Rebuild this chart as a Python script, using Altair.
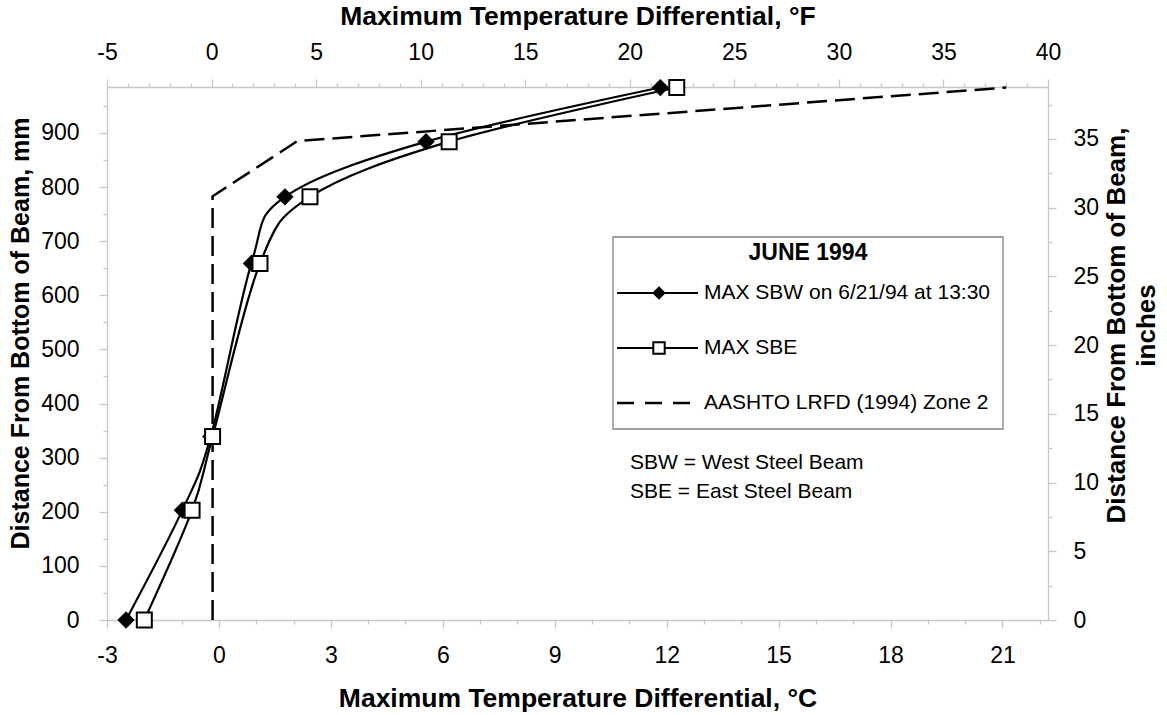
import altair as alt
import pandas as pd

# ---- data ----
heights_mm = [0, 203, 339, 659, 782, 884, 984]
sbw_c = [-2.49, -0.98, -0.22, 0.87, 1.77, 5.55, 11.83]
sbe_c = [-2.00, -0.72, -0.17, 1.10, 2.44, 6.17, 12.27]
aashto_mm = [0, 783, 885, 984]
aashto_c = [-0.17, -0.17, 2.10, 21.10]

legend_title = "JUNE 1994"
legend_labels = ["MAX SBW on 6/21/94 at 13:30", "MAX SBE", "AASHTO LRFD (1994) Zone 2"]
notes = ["SBW = West Steel Beam", "SBE = East Steel Beam"]

c_ticks = list(range(-3, 23))
f_ticks = list(range(-5, 41))
mm_ticks = list(range(0, 951, 50))
in_ticks = [i * 2.5 for i in range(0, 16)]

W, H = 941, 533
FONT = "Liberation Sans"
AX = "#c8c8c8"

sbw = pd.DataFrame({"C": sbw_c, "mm": heights_mm})
sbe = pd.DataFrame({"C": sbe_c, "mm": heights_mm})
aas = pd.DataFrame({"C": aashto_c, "mm": aashto_mm})
ghost = pd.DataFrame({"F": [c * 1.8 for c in sbe_c], "inch": [m / 25.4 for m in heights_mm]})

xs = alt.Scale(domain=[-3, 22.22], nice=False, zero=False)
ys = alt.Scale(domain=[0, 985], nice=False, zero=False)


def tick_cond(expr, big, small):
    return {"condition": {"test": expr, "value": big}, "value": small}


x_axis = alt.Axis(
    orient="bottom", values=c_ticks, grid=False,
    labelExpr="datum.value % 3 === 0 ? '' + datum.value : ''",
    tickSize=tick_cond("datum.value % 3 === 0", 8, 4),
    labelPadding=34, labelFontSize=23, labelBaseline="alphabetic",
    title="Maximum Temperature Differential, °C", titleFontSize=26.5,
    titleBaseline="alphabetic", titleY=86, titleX=W / 2,
)
y_axis = alt.Axis(
    orient="left", values=mm_ticks, grid=False,
    labelExpr="datum.value % 100 === 0 ? '' + datum.value : ''",
    tickSize=tick_cond("datum.value % 100 === 0", 8, 4),
    labelPadding=20, labelFontSize=23,
    title="Distance From Bottom of Beam, mm", titleFontSize=25,
    titleBaseline="middle", titleX=-87, titleY=246,
)
xf_axis = alt.Axis(
    orient="top", values=f_ticks, grid=False,
    labelExpr="datum.value % 5 === 0 ? '' + datum.value : ''",
    tickSize=tick_cond("datum.value % 5 === 0", 8, 4),
    labelPadding=20, labelFontSize=23, labelBaseline="alphabetic",
    title="Maximum Temperature Differential, °F", titleFontSize=26.5,
    titleBaseline="alphabetic", titleY=-63, titleX=W / 2,
)
yin_axis = alt.Axis(
    orient="right", values=in_ticks, grid=False,
    labelExpr="datum.value % 5 === 0 ? '' + datum.value : ''",
    tickSize=tick_cond("datum.value % 5 === 0", 8, 4),
    labelPadding=17, labelFontSize=23,
    title=["Distance From Bottom of Beam,", "inches"], titleFontSize=26,
    titleAngle=270, titleBaseline="middle", titleLineHeight=30,
    titleX=68, titleY=238,
)

X = alt.X("C:Q", scale=xs, axis=x_axis)
Y = alt.Y("mm:Q", scale=ys, axis=y_axis)

dash = alt.Chart(aas).mark_line(color="black", strokeWidth=2.5, strokeDash=[20, 8]).encode(
    x=X, y=Y, order="mm:Q")
sbw_line = alt.Chart(sbw).mark_line(color="black", strokeWidth=2.2, interpolate="cardinal", tension=0).encode(
    x=X, y=Y, order="mm:Q")
sbe_line = alt.Chart(sbe).mark_line(color="black", strokeWidth=2.2, interpolate="cardinal", tension=0).encode(
    x=X, y=Y, order="mm:Q")
sbw_pts = alt.Chart(sbw).mark_point(shape="diamond", filled=True, color="black", size=300, opacity=1).encode(
    x=X, y=Y)
sbe_pts = alt.Chart(sbe).mark_point(shape="square", filled=True, fill="white", stroke="black",
                                    strokeWidth=2, size=225, opacity=1).encode(x=X, y=Y)

one = alt.Data(values=[{"a": 1}])
leg_box = alt.Chart(one).mark_rect(fill="white", stroke="#808080", strokeWidth=1.3).encode(
    x=alt.value(506), x2=alt.value(896), y=alt.value(150), y2=alt.value(342))
leg_title = alt.Chart(one).mark_text(text=legend_title, font=FONT, fontSize=23, fontWeight="bold",
                                     align="center", baseline="middle", color="black").encode(
    x=alt.value(701), y=alt.value(166))
row_y = [206, 261, 316]
leg_layers = []
for i, lab in enumerate(legend_labels):
    ry = row_y[i]
    if i < 2:
        leg_layers.append(alt.Chart(one).mark_rule(color="black", strokeWidth=2.2).encode(
            x=alt.value(510), x2=alt.value(591), y=alt.value(ry)))
    else:
        leg_layers.append(alt.Chart(one).mark_rule(color="black", strokeWidth=2.5, strokeDash=[17, 11]).encode(
            x=alt.value(510), x2=alt.value(591), y=alt.value(ry)))
    if i == 0:
        leg_layers.append(alt.Chart(one).mark_point(shape="diamond", filled=True, color="black",
                                                    size=180, opacity=1).encode(
            x=alt.value(552), y=alt.value(ry)))
    if i == 1:
        leg_layers.append(alt.Chart(one).mark_point(shape="square", filled=True, fill="white", stroke="black",
                                                    strokeWidth=2, size=130, opacity=1).encode(
            x=alt.value(552), y=alt.value(ry)))
    leg_layers.append(alt.Chart(one).mark_text(text=lab, font=FONT, fontSize=21, align="left",
                                               baseline="middle", color="black").encode(
        x=alt.value(597), y=alt.value(ry)))
note_layers = [
    alt.Chart(one).mark_text(text=t, font=FONT, fontSize=21, align="left", baseline="middle",
                             color="black").encode(x=alt.value(523), y=alt.value(376 + 29 * k))
    for k, t in enumerate(notes)
]

main = alt.layer(dash, sbw_line, sbe_line, sbw_pts, sbe_pts, leg_box, leg_title, *leg_layers, *note_layers)

ghost_layer = alt.Chart(ghost).mark_point(opacity=0).encode(
    x=alt.X("F:Q", scale=alt.Scale(domain=[-5, 40], nice=False, zero=False), axis=xf_axis),
    y=alt.Y("inch:Q", scale=alt.Scale(domain=[0, 985 / 25.4], nice=False, zero=False), axis=yin_axis),
)

chart = alt.layer(main, ghost_layer).resolve_scale(x="independent", y="independent").properties(
    width=W, height=H,
    autosize=alt.AutoSizeParams(type="none"),
    padding={"left": 107, "top": 87, "right": 119, "bottom": 95},
    background="white",
).configure_view(stroke=None).configure_axis(
    domainColor=AX, tickColor=AX, domainWidth=1.3, tickWidth=1.3,
    labelFont=FONT, titleFont=FONT, labelColor="black", titleColor="black",
    titleFontWeight="bold", labelFlush=False, labelOverlap=False,
)

chart.save("out.html", embed_options={"renderer": "svg", "actions": False})
